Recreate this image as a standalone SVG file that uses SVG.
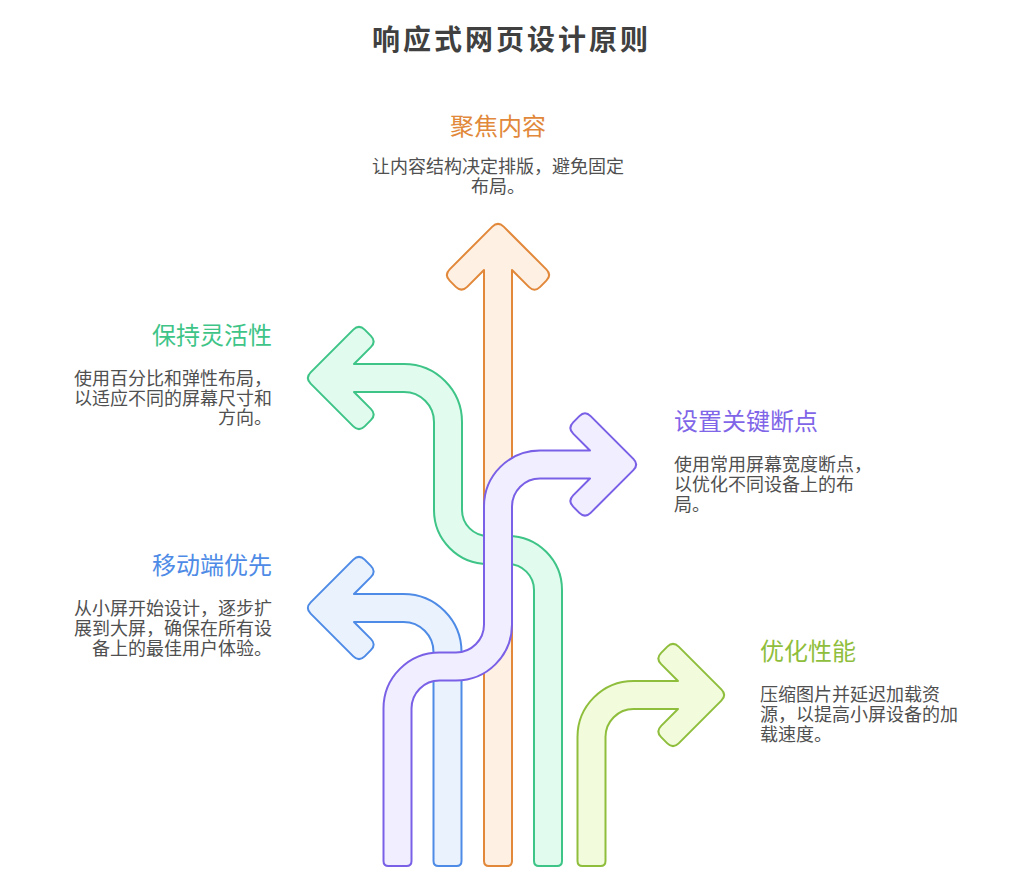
<svg xmlns="http://www.w3.org/2000/svg" width="1027" height="894" viewBox="0 0 1027 894">
<style>
.t{font-family:"Noto Sans CJK SC","Noto Sans",sans-serif}
.title{font-size:28px;font-weight:700;fill:#404040;letter-spacing:3px}
.h{font-size:24px}
.d{font-size:18px;fill:#505050}
.arrow{stroke-width:2;stroke-linejoin:round}
.orange{fill:#FEF0E3;stroke:#E1883A}
.green{fill:#E1FBEF;stroke:#3EC487}
.purple{fill:#F1EFFF;stroke:#7A60E6}
.blue{fill:#EAF2FE;stroke:#4E8BE6}
.lime{fill:#F2FCDD;stroke:#8FBE3C}
</style>
<rect width="1027" height="894" fill="#FFFFFF"/>
<text class="t title" x="372" y="49.5">响应式网页设计原则</text>
<g id="connectors">
<path id="arrow-green" class="arrow green" d="M534 861 L534 590 A26 26 0 0 0 508 564 L488 564 A54 54 0 0 1 434 510 L434 422 A30 30 0 0 0 404 392 L354 392 L370.84 408.84 Q376.5 414.5 370.84 420.16 L364.66 426.34 Q359 432 353.34 426.34 L310.66 383.66 Q305 378 310.66 372.34 L353.34 329.66 Q359 324 364.66 329.66 L370.84 335.84 Q376.5 341.5 370.84 347.16 L354 364 L404 364 A58 58 0 0 1 462 422 L462 510 A26 26 0 0 0 488 536 L508 536 A54 54 0 0 1 562 590 L562 861 Q562 866 557 866 L539 866 Q534 866 534 861 Z"/>
<path id="arrow-blue" class="arrow blue" d="M433.5 861 L433.5 652 A30 30 0 0 0 403.5 622 L354 622 L370.84 638.84 Q376.5 644.5 370.84 650.16 L364.66 656.34 Q359 662 353.34 656.34 L310.66 613.66 Q305 608 310.66 602.34 L353.34 559.66 Q359 554 364.66 559.66 L370.84 565.84 Q376.5 571.5 370.84 577.16 L354 594 L403.5 594 A58 58 0 0 1 461.5 652 L461.5 861 Q461.5 866 456.5 866 L438.5 866 Q433.5 866 433.5 861 Z"/>
<path id="arrow-orange" class="arrow orange" d="M484 861 L484 270 L467.16 286.84 Q461.5 292.5 455.84 286.84 L449.66 280.66 Q444 275 449.66 269.34 L492.34 226.66 Q498 221 503.66 226.66 L546.34 269.34 Q552 275 546.34 280.66 L540.16 286.84 Q534.5 292.5 528.84 286.84 L512 270 L512 861 Q512 866 507 866 L489 866 Q484 866 484 861 Z"/>
<path id="arrow-lime" class="arrow lime" d="M577.5 861 L577.5 737 A56 56 0 0 1 633.5 681 L678 681 L661.16 664.16 Q655.5 658.5 661.16 652.84 L667.34 646.66 Q673 641 678.66 646.66 L721.34 689.34 Q727 695 721.34 700.66 L678.66 743.34 Q673 749 667.34 743.34 L661.16 737.16 Q655.5 731.5 661.16 725.84 L678 709 L633.5 709 A28 28 0 0 0 605.5 737 L605.5 861 Q605.5 866 600.5 866 L582.5 866 Q577.5 866 577.5 861 Z"/>
<path id="arrow-purple" class="arrow purple" d="M383.5 861 L383.5 708.5 A56 56 0 0 1 439.5 652.5 L456 652.5 A28 28 0 0 0 484 624.5 L484 506.5 A56 56 0 0 1 540 450.5 L590 450.5 L573.16 433.66 Q567.5 428 573.16 422.34 L579.34 416.16 Q585 410.5 590.66 416.16 L633.34 458.84 Q639 464.5 633.34 470.16 L590.66 512.84 Q585 518.5 579.34 512.84 L573.16 506.66 Q567.5 501 573.16 495.34 L590 478.5 L540 478.5 A28 28 0 0 0 512 506.5 L512 624.5 A56 56 0 0 1 456 680.5 L439.5 680.5 A28 28 0 0 0 411.5 708.5 L411.5 861 Q411.5 866 406.5 866 L388.5 866 Q383.5 866 383.5 861 Z"/>
</g>
<g id="node-focus-content">
<text class="t h" x="498" y="135" text-anchor="middle" fill="#E1883A">聚焦内容</text>
<text class="t d" text-anchor="middle"><tspan x="498" y="172.5">让内容结构决定排版，避免固定</tspan><tspan x="498" y="192.5">布局。</tspan></text>
</g>
<g id="node-flexibility">
<text class="t h" x="272" y="343.5" text-anchor="end" fill="#3EC487">保持灵活性</text>
<text class="t d" text-anchor="end"><tspan x="272" y="384.5">使用百分比和弹性布局，</tspan><tspan x="272" y="404.5">以适应不同的屏幕尺寸和</tspan><tspan x="272" y="424">方向。</tspan></text>
</g>
<g id="node-breakpoints">
<text class="t h" x="674" y="430" fill="#7F66E8">设置关键断点</text>
<text class="t d"><tspan x="674" y="470.5">使用常用屏幕宽度断点，</tspan><tspan x="674" y="490.5">以优化不同设备上的布</tspan><tspan x="674" y="510.5">局。</tspan></text>
</g>
<g id="node-mobile-first">
<text class="t h" x="272" y="573.5" text-anchor="end" fill="#4E8BE6">移动端优先</text>
<text class="t d" text-anchor="end"><tspan x="272" y="615">从小屏开始设计，逐步扩</tspan><tspan x="272" y="635">展到大屏，确保在所有设</tspan><tspan x="272" y="655">备上的最佳用户体验。</tspan></text>
</g>
<g id="node-performance">
<text class="t h" x="760" y="660" fill="#8FBE3C">优化性能</text>
<text class="t d"><tspan x="760" y="700.5">压缩图片并延迟加载资</tspan><tspan x="760" y="720.5">源，以提高小屏设备的加</tspan><tspan x="760" y="740.5">载速度。</tspan></text>
</g>
</svg>
